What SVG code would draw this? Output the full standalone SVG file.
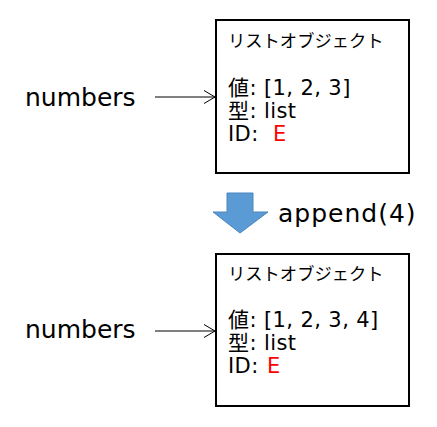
<svg xmlns="http://www.w3.org/2000/svg" width="437" height="427" viewBox="0 0 437 427">
<style>
.box{fill:#fff;stroke:#000;stroke-width:2}
.t{font-family:"DejaVu Sans","Noto Sans CJK JP",sans-serif;fill:#000}
.lbl{font-size:25px}
.ttl{font-size:17.3px}
.val{font-size:21px;letter-spacing:0.4px}
.red{fill:#ff0000}
.conn{stroke:#000;stroke-width:1;fill:none}
</style>
<defs>
<marker id="arr" markerWidth="12" markerHeight="14" refX="11" refY="7" orient="auto" markerUnits="userSpaceOnUse">
<path d="M0,0.5 L11,7 L0,13.5" fill="none" stroke="#000" stroke-width="1"/>
</marker>
</defs>
<rect width="437" height="427" fill="#fff"/>
<g id="obj1">
<rect class="box" x="216" y="20" width="193" height="153"/>
<text class="t ttl" x="228" y="47">リストオブジェクト</text>
<text class="t val" x="228" y="95">値: [1, 2, 3]</text>
<text class="t val" x="228" y="118">型: list</text>
<text class="t val" x="228" y="141">ID: <tspan x="273" class="red">E</tspan></text>
</g>
<g id="obj2">
<rect class="box" x="216" y="254" width="193" height="152"/>
<text class="t ttl" x="228" y="280">リストオブジェクト</text>
<text class="t val" x="228" y="327">値: [1, 2, 3, 4]</text>
<text class="t val" x="228" y="350">型: list</text>
<text class="t val" x="228" y="373">ID: <tspan x="267" class="red">E</tspan></text>
</g>
<g id="var1"><text class="t lbl" x="25" y="106">numbers</text></g>
<g id="var2"><text class="t lbl" x="25" y="338">numbers</text></g>
<g id="op">
<path d="M227,193 H253 V212 H268 L240,233 L213,212 H227 Z" fill="#5b9bd5" stroke="#4a86be" stroke-width="1"/>
<text class="t lbl" x="278" y="222" letter-spacing="1">append(4)</text>
</g>
<g id="connectors">
<line class="conn" x1="155" y1="97" x2="215" y2="97" marker-end="url(#arr)"/>
<line class="conn" x1="155" y1="331" x2="215" y2="331" marker-end="url(#arr)"/>
</g>
</svg>
